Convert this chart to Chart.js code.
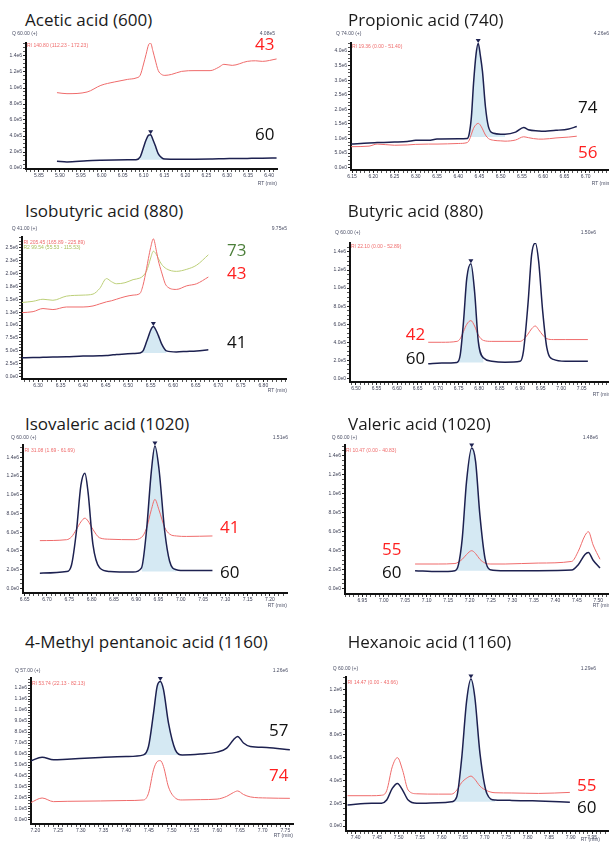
<!DOCTYPE html>
<html>
<head>
<meta charset="utf-8">
<script src="https://cdn.jsdelivr.net/npm/chart.js@4.4.1/dist/chart.umd.min.js"></script>
<style>
  body { margin: 0; width: 609px; height: 843px; position: relative; overflow: hidden; background: #fff; font-family: 'Open Sans', sans-serif; }
  canvas { position: absolute; }
  .title { position: absolute; font-size: 17px; line-height: 17px; color: #1a1a1a; white-space: nowrap; }
  .ion { position: absolute; font-size: 17px; line-height: 17px; white-space: nowrap; }
  .small { position: absolute; font: 5px/6px 'Liberation Sans', sans-serif; color: #4b4f66; white-space: nowrap; }
</style>
</head>
<body>
<script>
// retention time (min) and intensity (x1e6) per trace
const aceticRt = [5.893, 5.917, 5.965, 5.998, 6.03, 6.062, 6.082, 6.092, 6.1, 6.106, 6.112, 6.117, 6.122, 6.128, 6.135, 6.143, 6.151, 6.167, 6.191, 6.223, 6.259, 6.28, 6.292, 6.312, 6.348, 6.368, 6.384, 6.418];
const aceticM60 = [0.083, 0.075, 0.09, 0.096, 0.1, 0.102, 0.104, 0.14, 0.26, 0.35, 0.41, 0.417, 0.36, 0.28, 0.18, 0.13, 0.112, 0.11, 0.108, 0.11, 0.113, 0.115, 0.117, 0.118, 0.12, 0.121, 0.122, 0.125];
const aceticM43 = [0.942, 0.929, 0.95, 1.033, 1.075, 1.108, 1.125, 1.16, 1.3, 1.42, 1.54, 1.56, 1.47, 1.35, 1.22, 1.17, 1.158, 1.17, 1.208, 1.217, 1.217, 1.26, 1.296, 1.283, 1.333, 1.34, 1.333, 1.363];

const propionicRt = [6.148, 6.19, 6.209, 6.25, 6.28, 6.30, 6.33, 6.35, 6.40, 6.421, 6.426, 6.431, 6.436, 6.442, 6.447, 6.452, 6.457, 6.464, 6.471, 6.483, 6.50, 6.51, 6.535, 6.554, 6.565, 6.589, 6.60, 6.63, 6.66, 6.679];
const propionicM74 = [0.81, 0.85, 0.86, 0.88, 0.90, 0.937, 0.94, 0.98, 0.99, 1.0, 1.18, 1.75, 2.89, 3.9, 4.26, 3.85, 3.3, 2.09, 1.41, 1.18, 1.15, 1.15, 1.22, 1.38, 1.3, 1.26, 1.25, 1.28, 1.33, 1.41];
const propionicM56 = [0.72, 0.74, 0.81, 0.77, 0.78, 0.80, 0.81, 0.81, 0.83, 0.86, 0.95, 1.15, 1.35, 1.48, 1.52, 1.46, 1.33, 1.12, 1.0, 0.94, 0.92, 0.91, 0.95, 1.06, 1.03, 0.98, 0.98, 1.02, 1.05, 1.08];

const isobutyricRt = [6.264, 6.289, 6.311, 6.333, 6.363, 6.40, 6.422, 6.437, 6.452, 6.463, 6.474, 6.493, 6.511, 6.526, 6.533, 6.541, 6.545, 6.55, 6.556, 6.563, 6.567, 6.574, 6.585, 6.607, 6.63, 6.652, 6.678];
const isobutyricM41 = [0.367, 0.37, 0.375, 0.38, 0.387, 0.40, 0.403, 0.406, 0.41, 0.42, 0.43, 0.44, 0.45, 0.46, 0.5, 0.68, 0.78, 0.90, 0.97, 0.88, 0.8, 0.64, 0.50, 0.48, 0.49, 0.50, 0.52];
const isobutyricM43 = [1.24, 1.26, 1.32, 1.30, 1.35, 1.35, 1.37, 1.41, 1.45, 1.47, 1.50, 1.55, 1.58, 1.61, 1.77, 2.1, 2.29, 2.5, 2.67, 2.42, 2.25, 2.03, 1.76, 1.69, 1.76, 1.80, 1.93];
const isobutyricM73 = [1.437, 1.46, 1.50, 1.48, 1.56, 1.58, 1.60, 1.71, 1.90, 1.84, 1.80, 1.82, 1.88, 1.91, 1.95, 2.05, 2.15, 2.3, 2.43, 2.36, 2.29, 2.18, 2.09, 2.04, 2.08, 2.16, 2.36];

const butyricRt = [6.676, 6.709, 6.746, 6.754, 6.762, 6.77, 6.78, 6.789, 6.798, 6.811, 6.831, 6.863, 6.90, 6.908, 6.919, 6.928, 6.937, 6.945, 6.955, 6.965, 6.981, 7.01, 7.065];
const butyricM60 = [0.163, 0.17, 0.177, 0.26, 0.63, 1.11, 1.27, 0.96, 0.41, 0.225, 0.19, 0.18, 0.19, 0.30, 0.82, 1.37, 1.50, 1.30, 0.74, 0.34, 0.21, 0.19, 0.19];
const butyricM42 = [0.40, 0.40, 0.41, 0.44, 0.52, 0.60, 0.64, 0.58, 0.48, 0.42, 0.41, 0.41, 0.41, 0.43, 0.49, 0.55, 0.58, 0.54, 0.48, 0.44, 0.43, 0.43, 0.43];

const isovalericRt = [6.684, 6.744, 6.755, 6.766, 6.776, 6.785, 6.792, 6.803, 6.818, 6.841, 6.893, 6.912, 6.923, 6.934, 6.942, 6.951, 6.964, 6.975, 6.99, 7.013, 7.071];
const isovalericM60 = [0.163, 0.18, 0.25, 0.61, 1.10, 1.23, 1.03, 0.47, 0.22, 0.18, 0.174, 0.22, 0.61, 1.25, 1.52, 1.28, 0.61, 0.29, 0.20, 0.19, 0.19];
const isovalericM41 = [0.51, 0.52, 0.55, 0.63, 0.71, 0.75, 0.72, 0.63, 0.54, 0.525, 0.52, 0.545, 0.64, 0.84, 0.95, 0.84, 0.65, 0.58, 0.56, 0.555, 0.56];

const valericRt = [7.073, 7.127, 7.166, 7.174, 7.183, 7.193, 7.205, 7.214, 7.224, 7.236, 7.248, 7.283, 7.36, 7.438, 7.453, 7.469, 7.477, 7.488, 7.504];
const valericM60 = [0.19, 0.18, 0.19, 0.25, 0.53, 1.13, 1.48, 1.34, 0.78, 0.32, 0.20, 0.19, 0.19, 0.196, 0.25, 0.36, 0.38, 0.30, 0.217];
const valericM55 = [0.26, 0.26, 0.265, 0.28, 0.31, 0.36, 0.40, 0.37, 0.31, 0.27, 0.26, 0.26, 0.27, 0.287, 0.39, 0.56, 0.60, 0.46, 0.31];

const methylRt = [7.19, 7.215, 7.24, 7.27, 7.343, 7.40, 7.438, 7.449, 7.46, 7.468, 7.475, 7.482, 7.493, 7.508, 7.523, 7.563, 7.60, 7.621, 7.636, 7.645, 7.658, 7.673, 7.709, 7.76];
const methylM57 = [0.538, 0.571, 0.547, 0.553, 0.568, 0.577, 0.592, 0.668, 0.97, 1.215, 1.26, 1.185, 0.88, 0.638, 0.592, 0.60, 0.617, 0.653, 0.73, 0.76, 0.70, 0.668, 0.66, 0.638];
const methylM74 = [0.158, 0.20, 0.167, 0.17, 0.173, 0.177, 0.182, 0.243, 0.456, 0.53, 0.54, 0.486, 0.30, 0.20, 0.182, 0.185, 0.19, 0.215, 0.25, 0.264, 0.232, 0.21, 0.20, 0.197];

const hexanoicRt = [7.381, 7.437, 7.46, 7.472, 7.485, 7.497, 7.509, 7.522, 7.542, 7.592, 7.623, 7.635, 7.646, 7.658, 7.668, 7.677, 7.689, 7.705, 7.724, 7.763, 7.825, 7.898];
const hexanoicM60 = [0.184, 0.199, 0.20, 0.228, 0.33, 0.374, 0.315, 0.228, 0.199, 0.204, 0.213, 0.257, 0.578, 1.10, 1.29, 1.13, 0.636, 0.286, 0.228, 0.225, 0.219, 0.209];
const hexanoicM55 = [0.266, 0.266, 0.27, 0.31, 0.52, 0.60, 0.49, 0.315, 0.283, 0.28, 0.28, 0.315, 0.38, 0.42, 0.438, 0.41, 0.35, 0.31, 0.292, 0.29, 0.286, 0.295];

// labelled tick values (x in min, y in x1e6)
const aceticXTicks = [5.85, 5.90, 5.95, 6.00, 6.05, 6.10, 6.15, 6.20, 6.25, 6.30, 6.35, 6.40];
const propionicXTicks = [6.15, 6.20, 6.25, 6.30, 6.35, 6.40, 6.45, 6.50, 6.55, 6.60, 6.65, 6.70];
const isobutyricXTicks = [6.30, 6.35, 6.40, 6.45, 6.50, 6.55, 6.60, 6.65, 6.70, 6.75, 6.80];
const butyricXTicks = [6.50, 6.55, 6.60, 6.65, 6.70, 6.75, 6.80, 6.85, 6.90, 6.95, 7.00, 7.05];
const isovalericXTicks = [6.65, 6.70, 6.75, 6.80, 6.85, 6.90, 6.95, 7.00, 7.05, 7.10, 7.15, 7.20];
const valericXTicks = [6.95, 7.00, 7.05, 7.10, 7.15, 7.20, 7.25, 7.30, 7.35, 7.40, 7.45, 7.50];
const methylXTicks = [7.20, 7.25, 7.30, 7.35, 7.40, 7.45, 7.50, 7.55, 7.60, 7.65, 7.70, 7.75];
const hexanoicXTicks = [7.40, 7.45, 7.50, 7.55, 7.60, 7.65, 7.70, 7.75, 7.80, 7.85, 7.90, 7.95];

const yTicks02 = [0, 0.2, 0.4, 0.6, 0.8, 1.0, 1.2, 1.4];
const yTicks05 = [0, 0.5, 1.0, 1.5, 2.0, 2.5, 3.0, 3.5, 4.0];
const yTicks025 = [0, 0.25, 0.5, 0.75, 1.0, 1.25, 1.5, 1.75, 2.0, 2.25, 2.5];
const yTicks01 = [0, 0.1, 0.2, 0.3, 0.4, 0.5, 0.6, 0.7, 0.8, 0.9, 1.0, 1.1, 1.2];
const yTicks02b = [0, 0.2, 0.4, 0.6, 0.8, 1.0, 1.2];

const NAVY = '#1d2150', RED = '#ef6b6b', OLIVE = '#bccf78', FILL = '#d5e9f3';
const ION_RED = '#ff1f1f', ION_BLACK = '#111', ION_GREEN = '#4c7f3a';

const panels = [
  { title: 'Acetic acid (600)', tx: 25, tb: 26, q: 'Q 60.00 (+)', qx: 12, qy: 33, max: '4.08e5', mr: 275,
    ri: [['RI 140.80 (112.23 - 172.23)', RED, 27, 45.3]],
    ions: [['43', ION_RED, 255, 43.7], ['60', ION_BLACK, 255, 134.3]], rtR: 277, rtY: 183,
    box: [26, 277, 43, 169], x: [5.819, 6.419, aceticXTicks], y: [-0.0125, 1.5625, yTicks02],
    rt: aceticRt, traces: [[aceticM60, NAVY, 1.5], [aceticM43, RED, 1]], fill: [6.082, 6.151, 0.104] },
  { title: 'Propionic acid (740)', tx: 348, tb: 26, q: 'Q 74.00 (+)', qx: 336, qy: 33, max: '4.26e6', mr: 609,
    ri: [['RI 19.36 (0.00 - 51.40)', RED, 352, 46]],
    ions: [['74', ION_BLACK, 578, 107], ['56', ION_RED, 578, 152]], rtR: 611, rtY: 183,
    box: [350.7, 609, 43, 170], x: [6.1476, 6.7548, propionicXTicks], y: [-0.079, 4.275, yTicks05],
    rt: propionicRt, traces: [[propionicM74, NAVY, 1.5], [propionicM56, RED, 1]], fill: [6.421, 6.51, 1.05] },
  { title: 'Isobutyric acid (880)', tx: 25, tb: 216.7, q: 'Q 41.00 (+)', qx: 11.7, qy: 228.3, max: '9.75e5', mr: 287,
    ri: [['RI 205.45 (165.89 - 225.89)', RED, 23.5, 241.7], ['R2 99.54 (55.53 - 115.53)', '#a9bf5c', 23.5, 247.3]],
    ions: [['73', ION_GREEN, 227, 250], ['43', ION_RED, 227, 273.3], ['41', ION_BLACK, 227, 341.7]], rtR: 287, rtY: 390,
    box: [22.3, 286, 236.7, 379], x: [6.2644, 6.8504, isobutyricXTicks], y: [-0.044, 2.705, yTicks025],
    rt: isobutyricRt, traces: [[isobutyricM41, NAVY, 1.5], [isobutyricM43, RED, 1], [isobutyricM73, OLIVE, 1]], fill: [6.526, 6.585, 0.46] },
  { title: 'Butyric acid (880)', tx: 347.7, tb: 216.7, q: 'Q 60.00 (+)', qx: 335, qy: 232.3, max: '1.50e6', mr: 596,
    ri: [['RI 22.10 (0.00 - 52.89)', RED, 351, 246]],
    ions: [['42', ION_RED, 405.7, 334.3], ['60', ION_BLACK, 405.7, 357.7]], rtR: 612, rtY: 394,
    box: [350, 609, 243.3, 382.3], x: [6.4854, 7.1165, butyricXTicks], y: [-0.04, 1.4996, yTicks02],
    rt: butyricRt, traces: [[butyricM60, NAVY, 1.5], [butyricM42, RED, 1]], fill: [6.746, 6.811, 0.177] },
  { title: 'Isovaleric acid (1020)', tx: 25, tb: 430, q: 'Q 60.00 (+)', qx: 11, qy: 436.7, max: '1.51e6', mr: 288,
    ri: [['RI 31.08 (1.69 - 61.69)', RED, 24.5, 450]],
    ions: [['41', ION_RED, 220, 526.7], ['60', ION_BLACK, 220, 571.7]], rtR: 287, rtY: 605,
    box: [23.3, 287, 445, 593.3], x: [6.6462, 7.2382, isovalericXTicks], y: [-0.049, 1.531, yTicks02],
    rt: isovalericRt, traces: [[isovalericM60, NAVY, 1.5], [isovalericM41, RED, 1]], fill: [6.912, 6.99, 0.18] },
  { title: 'Valeric acid (1020)', tx: 348, tb: 430, q: 'Q 60.00 (+)', qx: 331.7, qy: 436.7, max: '1.48e6', mr: 598,
    ri: [['RI 10.47 (0.00 - 40.83)', RED, 346, 450]],
    ions: [['55', ION_RED, 382, 549], ['60', ION_BLACK, 382, 571.7]], rtR: 612, rtY: 605,
    box: [345, 609, 445, 594.3], x: [6.9097, 7.525, valericXTicks], y: [-0.0557, 1.5124, yTicks02],
    rt: valericRt, traces: [[valericM60, NAVY, 1.5], [valericM55, RED, 1]], fill: [7.166, 7.248, 0.19] },
  { title: '4-Methyl pentanoic acid (1160)', tx: 25, tb: 648.3, q: 'Q 57.00 (+)', qx: 15, qy: 670, max: '1.26e6', mr: 288,
    ri: [['RI 53.74 (22.13 - 82.13)', RED, 32, 683.3]],
    ions: [['57', ION_BLACK, 269, 730], ['74', ION_RED, 269, 775]], rtR: 293, rtY: 835,
    box: [30.7, 292.7, 678.3, 824], x: [7.1905, 7.7669, methylXTicks], y: [-0.0364, 1.291, yTicks01],
    rt: methylRt, traces: [[methylM57, NAVY, 1.5], [methylM74, RED, 1]], fill: [7.438, 7.523, 0.59] },
  { title: 'Hexanoic acid (1160)', tx: 347.7, tb: 648.3, q: 'Q 60.00 (+)', qx: 332.7, qy: 668.3, max: '1.29e6', mr: 596,
    ri: [['RI 14.47 (0.00 - 43.66)', RED, 347.5, 681.7]],
    ions: [['55', ION_RED, 577, 785], ['60', ION_BLACK, 577, 806.7]], rtR: 600, rtY: 839,
    box: [346, 609, 676.7, 831], x: [7.3774, 7.989, hexanoicXTicks], y: [-0.0438, 1.308, yTicks02b],
    rt: hexanoicRt, traces: [[hexanoicM60, NAVY, 1.5], [hexanoicM55, RED, 1]], fill: [7.623, 7.724, 0.213] }
];

const YW = 24, XH = 20, PT = 6;

function addText(cls, txt, css) {
  const d = document.createElement('div');
  d.className = cls;
  d.textContent = txt;
  d.style.cssText = css;
  document.body.appendChild(d);
}

function buildXTicks(labels, min, max) {
  const out = [];
  for (let k = Math.ceil(min * 100 - 1e-6); k <= Math.floor(max * 100 + 1e-6); k++) {
    const v = k / 100;
    out.push({ value: v, major: labels.some(l => Math.abs(l - v) < 1e-6) });
  }
  return out;
}

function buildYTicks(labels, min, max) {
  const step = (labels[1] - labels[0]) / 4;
  const out = [];
  for (let i = 0; i * step <= max + 1e-9; i++) {
    const v = i * step;
    out.push({ value: v, major: labels.some(l => Math.abs(l - v) < 1e-6) });
  }
  return out;
}

function fmtY(v) {
  return Math.round(v * 1e6).toExponential(1).replace('+', '');
}

// triangle above the integrated peak
const peakMarker = {
  id: 'peakMarker',
  afterDatasetsDraw(chart, args, opts) {
    const ds = chart.data.datasets[0].data;
    let k = -1;
    ds.forEach((d, i) => {
      if (d.x >= opts.from && d.x <= opts.to && (k < 0 || d.y > ds[k].y)) k = i;
    });
    if (k < 0) return;
    const p = chart.getDatasetMeta(0).data[k];
    const c = chart.ctx;
    c.save();
    c.fillStyle = NAVY;
    c.beginPath();
    c.moveTo(p.x - 2.5, p.y - 4.5);
    c.lineTo(p.x + 2.5, p.y - 4.5);
    c.lineTo(p.x, p.y - 0.5);
    c.closePath();
    c.fill();
    c.restore();
  }
};

panels.forEach(function (p) {
  const [L, R, T, B] = p.box;
  const cv = document.createElement('canvas');
  const W = Math.round(R - L + YW + 1);
  const H = Math.round(B - T + PT + XH);
  cv.width = W;
  cv.height = H;
  cv.style.left = (L - YW) + 'px';
  cv.style.top = (T - PT) + 'px';
  document.body.appendChild(cv);

  const datasets = p.traces.map(function (t) {
    return {
      data: p.rt.map((x, i) => ({ x: x, y: t[0][i] })),
      borderColor: t[1],
      borderWidth: t[2],
      fill: false,
      cubicInterpolationMode: 'monotone',
      pointRadius: 0,
      order: 1
    };
  });
  const q = p.traces[0][0];
  datasets.push({
    data: p.rt.map((x, i) => ({ x: x, y: q[i] })).filter(d => d.x >= p.fill[0] && d.x <= p.fill[1]),
    borderWidth: 0,
    backgroundColor: FILL,
    fill: { value: p.fill[2] },
    cubicInterpolationMode: 'monotone',
    pointRadius: 0,
    order: 5
  });

  const xt = buildXTicks(p.x[2], p.x[0], p.x[1]);
  const yt = buildYTicks(p.y[2], p.y[0], p.y[1]);
  const tickFont = { family: 'Liberation Sans', size: 5 };

  new Chart(cv, {
    type: 'line',
    data: { datasets: datasets },
    options: {
      responsive: false,
      animation: false,
      events: [],
      layout: { padding: { top: PT, right: 1, left: 0, bottom: 0 } },
      plugins: { legend: { display: false }, tooltip: { enabled: false }, peakMarker: { from: p.fill[0], to: p.fill[1] } },
      scales: {
        x: {
          type: 'linear', min: p.x[0], max: p.x[1], bounds: 'data',
          afterFit: s => { s.height = XH; },
          afterBuildTicks: s => { s.ticks = xt.map(t => ({ value: t.value, major: t.major })); },
          ticks: { autoSkip: false, maxRotation: 0, minRotation: 0, padding: 1, font: tickFont, color: '#3c3f55',
            callback: (v, i, t) => (t[i].major ? v.toFixed(2) : '') },
          grid: { drawOnChartArea: false, tickLength: 3, tickColor: c => (c.tick && c.tick.major ? '#222' : '#555'), tickWidth: 1 },
          border: { display: true, color: '#111', width: 2 }
        },
        y: {
          type: 'linear', min: p.y[0], max: p.y[1], bounds: 'data',
          afterFit: s => { s.width = YW; },
          afterBuildTicks: s => { s.ticks = yt.map(t => ({ value: t.value, major: t.major })); },
          ticks: { autoSkip: false, padding: 1, font: tickFont, color: '#3c3f55',
            callback: (v, i, t) => (t[i].major ? fmtY(v) : '') },
          grid: { drawOnChartArea: false, tickLength: 3, tickColor: c => (c.tick && c.tick.major ? '#222' : '#555'), tickWidth: 1 },
          border: { display: true, color: '#111', width: 2 }
        }
      }
    },
    plugins: [peakMarker]
  });

  addText('title', p.title, 'left:' + p.tx + 'px;top:' + (p.tb - 15.1) + 'px');
  addText('small', p.q, 'left:' + p.qx + 'px;top:' + (p.qy - 3) + 'px');
  addText('small', p.max, 'right:' + (609 - p.mr) + 'px;top:' + (p.qy - 3) + 'px');
  p.ri.forEach(r => addText('small', r[0], 'color:' + r[1] + ';left:' + r[2] + 'px;top:' + (r[3] - 3) + 'px'));
  p.ions.forEach(n => addText('ion', n[0], 'color:' + n[1] + ';left:' + n[2] + 'px;top:' + (n[3] - 9) + 'px'));
  addText('small', 'RT (min)', 'right:' + (609 - p.rtR) + 'px;top:' + (p.rtY - 3) + 'px');
});
</script>
</body>
</html>
